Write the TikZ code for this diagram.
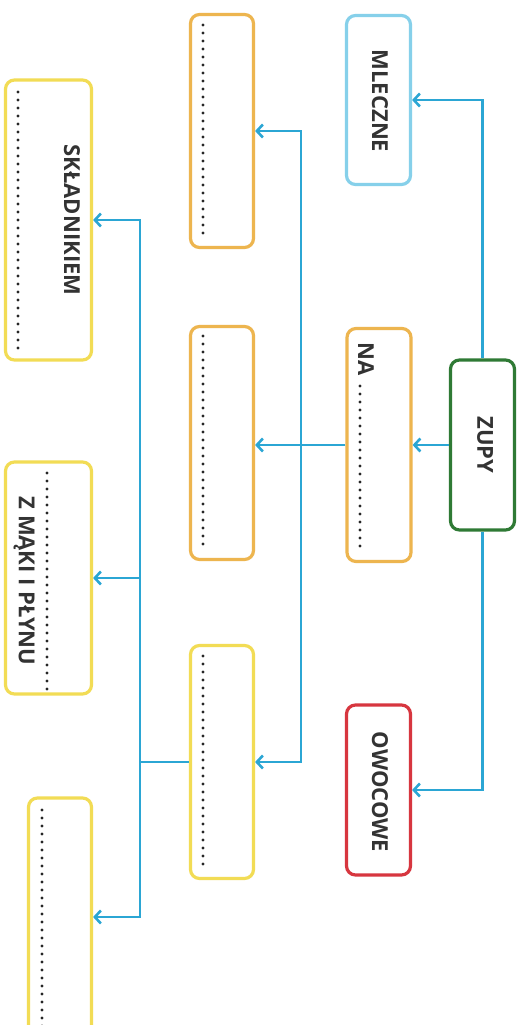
\documentclass[tikz,border=0pt]{standalone}
\usepackage{fontspec}
\setmainfont{Open Sans}
\usetikzlibrary{arrows.meta}
\definecolor{arrblue}{HTML}{2BA6D4}
\definecolor{boxblue}{HTML}{86D0EA}
\definecolor{boxgreen}{HTML}{2F7A35}
\definecolor{boxorange}{HTML}{EDB54F}
\definecolor{boxyellow}{HTML}{F2DC55}
\definecolor{boxred}{HTML}{D7363F}
\definecolor{txt}{HTML}{333333}
\begin{document}
\begin{tikzpicture}[x=1pt,y=-1pt,
  box/.style={draw, line width=3.2pt, rounded corners=9pt, inner sep=0pt, fill=white},
  lbl/.style={rotate=-90, font=\fontsize{22}{22}\selectfont\bfseries, text=txt, inner sep=0pt},
  arr/.style={arrblue, line width=2.6pt, -{Straight Barb[length=6pt,width=13pt,line width=2.6pt]}},
  conn/.style={arrblue, line width=2.6pt},
  dotline/.style={line width=3.2pt, line cap=round, dash pattern=on 0pt off 8pt, black!85}]
\useasboundingbox (0,0) rectangle (521,1025);
\clip (0,0) rectangle (521,1025);
\fill[white] (0,0) rectangle (521,1025);

% right column
\node[box, draw=boxgreen, minimum width=64, minimum height=170] (zupy) at (482.5,445) {};
\node[lbl] (tzupy) at (485,445) {ZUPY};
\node[box, draw=boxblue, minimum width=64, minimum height=169] (mleczne) at (378.5,100) {};
\node[lbl] (tmleczne) at (380,101) {MLECZNE};
\node[box, draw=boxorange, minimum width=64, minimum height=233] (na) at (379,445) {};
\node[lbl, anchor=west] (tna) at (366,342) {NA};
\node[box, draw=boxred, minimum width=64, minimum height=170] (owocowe) at (378.5,790) {};
\node[lbl] (towocowe) at (380,792) {OWOCOWE};

% middle column
\node[box, draw=boxorange, minimum width=63, minimum height=233] (m1) at (222,131) {};
\node[box, draw=boxorange, minimum width=63, minimum height=233] (m2) at (222,443) {};
\node[box, draw=boxyellow, minimum width=63, minimum height=233] (m3) at (222,762) {};

% left column
\node[box, draw=boxyellow, minimum width=86, minimum height=280] (l1) at (48.5,220) {};
\node[lbl] (tl1) at (72,220) {SKŁADNIKIEM};
\node[box, draw=boxyellow, minimum width=86, minimum height=232] (l2) at (48.5,578) {};
\node[lbl] (tl2) at (24,581) {Z MĄKI I PŁYNU};
\node[box, draw=boxyellow, minimum width=63, minimum height=238] (l3) at (60,917) {};

% dotted blanks
\draw[dotline] (360,386) -- (360,552);
\draw[dotline] (203,25) -- (203,238);
\draw[dotline] (203,336) -- (203,549);
\draw[dotline] (203,656) -- (203,869);
\draw[dotline] (18,92) -- (18,350);
\draw[dotline] (47,473) -- (47,689);
\draw[dotline] (42,810) -- (42,1040);

% connectors
\coordinate (j1) at (301,445);
\coordinate (j2) at (140,762);
\draw[arr] (zupy.north) |- (mleczne.east);
\draw[arr] (zupy.west) -- (na.east);
\draw[arr] (zupy.south) |- (owocowe.east);
\draw[arr] (na.west) -- (na.west -| m2.east);
\draw[arr] (j1) |- (m1.east);
\draw[arr] (j1) |- (m3.east);
\draw[conn] (m3.west) -- (j2);
\draw[arr] (j2) |- (l1.east);
\draw[arr] (j2 |- l2.east) -- (l2.east);
\draw[arr] (j2) |- (l3.east);
\end{tikzpicture}
\end{document}
